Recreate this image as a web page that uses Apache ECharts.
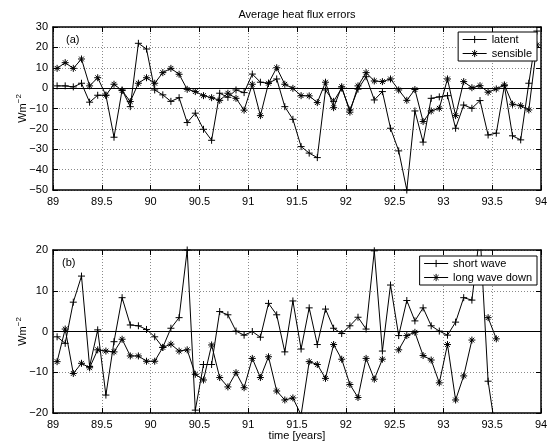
<!DOCTYPE html>
<html><head><meta charset="utf-8">
<script src="https://cdn.jsdelivr.net/npm/echarts@6/dist/echarts.min.js"></script>
<style>html,body{margin:0;padding:0;background:#fff}#c{width:547px;height:442px}</style>
</head><body><div id="c"></div>
<script>
// time of each monthly value [years]
const time = [
  89.042, 89.125, 89.208, 89.292, 89.375, 89.458, 89.542, 89.625, 89.708, 89.792, 89.875, 89.958,
  90.042, 90.125, 90.208, 90.292, 90.375, 90.458, 90.542, 90.625, 90.708, 90.792, 90.875, 90.958,
  91.042, 91.125, 91.208, 91.292, 91.375, 91.458, 91.542, 91.625, 91.708, 91.792, 91.875, 91.958,
  92.042, 92.125, 92.208, 92.292, 92.375, 92.458, 92.542, 92.625, 92.708, 92.792, 92.875, 92.958,
  93.042, 93.125, 93.208, 93.292, 93.375, 93.458, 93.542, 93.625, 93.708, 93.792, 93.875, 93.958
];
// panel (a)
const latent = [
  1.1, 1.1, 0.6, 2.4, -6.9, -3.5, -3.5, -24.1, -0.9, -9.1,
  22.0, 19.2, -0.9, -3.3, -6.5, -4.7, -16.9, -12.3, -20.2, -25.6,
  -2.5, -4.5, -0.9, -2.2, 6.9, 2.9, 2.4, 4.5, -9.1, -15.3,
  -28.7, -31.9, -34.1, -0.9, -6.5, 0.0, -10.7, -0.5, 5.6, -5.8,
  -1.7, -19.7, -30.8, -50.0, -11.2, -26.5, -5.0, -4.3, -3.7, -19.7,
  -8.3, -9.9, -6.1, -23.0, -22.1, 1.2, -23.4, -25.4, 2.4, 28.0
];
const sensible = [
  9.7, 12.5, 9.7, 14.3, 1.1, 5.1, -3.5, 1.9, -1.2, -6.6,
  2.4, 5.1, 2.4, 7.6, 9.7, 6.8, -0.6, -1.7, -3.7, -4.7,
  -6.0, -2.5, -5.0, -10.8, 1.9, -13.5, 2.4, 10.0, 1.9, -0.1,
  -3.7, -3.8, -7.1, 2.9, -9.6, 0.7, -11.8, 1.1, 7.6, 3.5,
  3.2, 4.5, -0.9, -6.0, -0.7, -16.4, -11.2, -9.9, 4.5, -13.5,
  3.2, 0.2, 1.2, -2.0, -0.4, 1.6, -7.9, -8.6, -10.7, 21.2
];
// panel (b)
const shortWave = [
  -1.3, -2.9, 7.2, 13.6, -8.6, 0.4, -15.6, -2.5, 8.3, 1.6,
  1.4, 0.5, -1.3, -3.9, 0.8, 3.4, 20.0, -19.3, -8.1, -8.1,
  4.9, 4.1, 0.1, -0.9, 0.0, -1.4, 6.9, 4.1, -5.0, 7.5,
  -4.3, 5.8, -3.2, 5.5, 0.8, -0.5, 1.4, 3.5, 0.6, 19.8,
  -4.8, 11.4, -1.0, 7.6, 2.6, 5.8, 1.4, 0.1, -0.9, 2.3,
  8.3, 7.7, 24.4, -12.2, -25.6
];
const longWaveDown = [
  -7.4, 0.6, -10.3, -7.8, -8.9, -4.5, -4.8, -5.0, -1.9, -6.0,
  -6.0, -7.3, -7.3, -3.9, -3.1, -4.8, -4.5, -10.5, -11.9, -3.3,
  -11.3, -13.6, -10.1, -13.8, -6.6, -11.3, -6.2, -14.6, -16.8, -16.3,
  -20.5, -7.4, -8.1, -11.5, -3.2, -6.8, -13.0, -16.2, -6.6, -11.7,
  -6.8, null, -4.5, -1.0, -0.2, -5.9, -7.0, -12.6, -3.2, -16.8,
  -10.9, -2.1, null, 3.4, -1.8
];
const xRange = [89, 94, 0.5];
const yRangeA = [-50, 30, 10];
const yRangeB = [-20, 20, 10];

const FONT = '"Liberation Sans", Arial, Helvetica, sans-serif';
const PLUS = 'path://M5,0L5,10M0,5L10,5';
const STAR = 'path://M5,0L5,10M0,5L10,5M1.6,1.6L8.4,8.4M1.6,8.4L8.4,1.6';

function pairs(vals) { return vals.map((v, i) => [time[i], v]); }
const minus = v => String(v).replace('-', '\u2212');

function xAx(grid, pos, main, name) {
  return {
    type: 'value', gridIndex: grid, position: pos,
    min: xRange[0], max: xRange[1], interval: xRange[2],
    axisLine: { show: true, onZero: false, lineStyle: { color: '#000', width: 1.5 } },
    axisTick: { show: true, inside: true, length: 5, lineStyle: { color: '#000', width: 1 } },
    axisLabel: { show: main, color: '#000', fontSize: 11, fontFamily: FONT, margin: 6, formatter: minus },
    splitLine: { show: main, lineStyle: { color: '#8a8a8a', type: [1, 2], width: 1 } },
    name: name || '', nameLocation: 'middle', nameGap: 17, nameMoveOverlap: false,
    nameTextStyle: { color: '#000', fontSize: 11, fontFamily: FONT }
  };
}
function yAx(grid, pos, main, r) {
  return {
    type: 'value', gridIndex: grid, position: pos,
    min: r[0], max: r[1], interval: r[2],
    axisLine: { show: true, onZero: false, lineStyle: { color: '#000', width: 1.5 } },
    axisTick: { show: true, inside: true, length: 5, lineStyle: { color: '#000', width: 1 } },
    axisLabel: { show: main, color: '#000', fontSize: 11, fontFamily: FONT, margin: 5, formatter: minus },
    splitLine: { show: main, lineStyle: { color: '#8a8a8a', type: [1, 2], width: 1 } },
    name: main ? '{a|Wm}{b|\u22122}' : '', nameLocation: 'middle', nameRotate: 90, nameGap: 23,
    nameMoveOverlap: false,
    nameTextStyle: {
      color: '#000', fontSize: 11, fontFamily: FONT,
      rich: {
        a: { fontSize: 11, fontFamily: FONT, color: '#000' },
        b: { fontSize: 8, fontFamily: FONT, color: '#000', padding: [0, 0, 7, 0] }
      }
    }
  };
}
function line(name, vals, xi, yi, sym, size, zero) {
  const s = {
    name: name, type: 'line', xAxisIndex: xi, yAxisIndex: yi,
    data: pairs(vals), symbol: sym, symbolSize: size, showSymbol: true,
    clip: true, connectNulls: false, animation: false,
    lineStyle: { color: '#000', width: 1 },
    itemStyle: { color: '#000', borderColor: '#000', borderWidth: 1 },
    emphasis: { disabled: true }
  };
  if (zero) {
    s.markLine = {
      silent: true, symbol: 'none', animation: false, label: { show: false },
      lineStyle: { color: '#000', type: 'solid', width: 1 },
      data: [{ yAxis: 0 }]
    };
  }
  return s;
}
function legend(names, top) {
  return {
    data: names, orient: 'vertical', right: 10, top: top,
    itemWidth: 24, itemHeight: 9, itemGap: 3,
    padding: [2, 5, 2, 4],
    itemStyle: { borderWidth: 1, borderColor: '#000', color: '#000' },
    lineStyle: { width: 1, color: '#000' },
    backgroundColor: '#fff', borderColor: '#000', borderWidth: 1, borderRadius: 0,
    textStyle: { color: '#000', fontSize: 11, fontFamily: FONT },
    selectedMode: false
  };
}

const chart = echarts.init(document.getElementById('c'), null, { renderer: 'canvas' });
chart.setOption({
  backgroundColor: '#fff',
  animation: false,
  title: {
    text: 'Average heat flux errors', left: 297, top: 9, textAlign: 'center', padding: 0,
    textStyle: { color: '#000', fontSize: 11, fontWeight: 'normal', fontFamily: FONT }
  },
  legend: [legend(['latent', 'sensible'], 32), legend(['short wave', 'long wave down'], 256)],
  grid: [
    { left: 53, top: 27, width: 488, height: 163, show: false, containLabel: false, outerBoundsMode: 'none' },
    { left: 53, top: 250, width: 488, height: 163, show: false, containLabel: false, outerBoundsMode: 'none' }
  ],
  xAxis: [
    xAx(0, 'bottom', true), xAx(1, 'bottom', true, 'time [years]'),
    xAx(0, 'top', false), xAx(1, 'top', false)
  ],
  yAxis: [
    yAx(0, 'left', true, yRangeA), yAx(1, 'left', true, yRangeB),
    yAx(0, 'right', false, yRangeA), yAx(1, 'right', false, yRangeB)
  ],
  series: [
    line('latent', latent, 0, 0, PLUS, 7, true),
    line('sensible', sensible, 0, 0, STAR, 7, false),
    line('short wave', shortWave, 1, 1, PLUS, 7, true),
    line('long wave down', longWaveDown, 1, 1, STAR, 7, false)
  ],
  graphic: [
    { type: 'text', left: 66, top: 34, style: { text: '(a)', fill: '#000', font: '11px ' + FONT } },
    { type: 'text', left: 62, top: 257, style: { text: '(b)', fill: '#000', font: '11px ' + FONT } }
  ]
});
</script>
</body></html>
